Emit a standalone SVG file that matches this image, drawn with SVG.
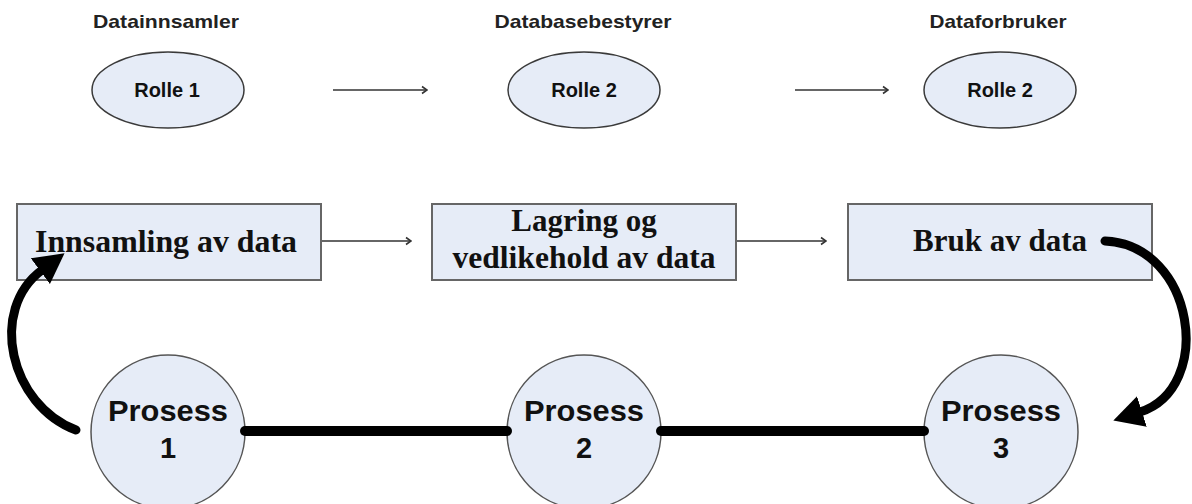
<svg xmlns="http://www.w3.org/2000/svg" width="1192" height="504" viewBox="0 0 1192 504">
<style>
.bg{fill:#ffffff}
.ell{fill:#e6ecf7;stroke:#3a3a3a;stroke-width:1.5}
.box{fill:#e6ecf7;stroke:#666666;stroke-width:2}
.circ{fill:#e6ecf7;stroke:#555555;stroke-width:1.5}
.lab{font-family:"Liberation Sans",Arial,sans-serif;font-weight:bold;font-size:19px;fill:#222;text-anchor:middle}
.role{font-family:"Liberation Sans",Arial,sans-serif;font-weight:bold;font-size:20px;fill:#111;text-anchor:middle}
.proc{font-family:"Liberation Sans",Arial,sans-serif;font-weight:bold;font-size:29px;fill:#111;text-anchor:middle}
.serif{font-family:"Liberation Serif","Times New Roman",serif;font-weight:bold;font-size:31px;fill:#111;text-anchor:middle}
.thin{stroke:#333;stroke-width:1.6;fill:none}
.thick{stroke:#000;stroke-width:10;stroke-linecap:round;fill:none}
.curve{stroke:#000;stroke-width:9;stroke-linecap:round;fill:none}
</style>
<defs>
<marker id="open" viewBox="0 0 10 10" refX="9" refY="5" markerWidth="10" markerHeight="10" markerUnits="userSpaceOnUse" orient="auto">
<path d="M4,1.5 L9,5 L4,8.5" fill="none" stroke="#333" stroke-width="1.6"/>
</marker>
<marker id="big" viewBox="0 0 30 32" refX="2" refY="16" markerWidth="30" markerHeight="32" markerUnits="userSpaceOnUse" orient="auto">
<path d="M0,0 L30,16 L0,32 z" fill="#000"/>
</marker>
</defs>
<rect class="bg" x="0" y="0" width="1192" height="504"/>

<g id="role1">
<text class="lab" x="166" y="28" textLength="146" lengthAdjust="spacingAndGlyphs">Datainnsamler</text>
<ellipse class="ell" cx="168" cy="90" rx="76" ry="38"/>
<text class="role" x="167" y="97">Rolle 1</text>
</g>
<g id="role2">
<text class="lab" x="583" y="28" textLength="177" lengthAdjust="spacingAndGlyphs">Databasebestyrer</text>
<ellipse class="ell" cx="584" cy="90" rx="76" ry="38"/>
<text class="role" x="584" y="97">Rolle 2</text>
</g>
<g id="role3">
<text class="lab" x="998" y="28" textLength="137" lengthAdjust="spacingAndGlyphs">Dataforbruker</text>
<ellipse class="ell" cx="1000" cy="90" rx="76" ry="38"/>
<text class="role" x="1000" y="97">Rolle 2</text>
</g>

<g id="box1">
<rect class="box" x="17" y="204" width="304" height="76"/>
<text class="serif" x="166" y="252" textLength="262" lengthAdjust="spacingAndGlyphs">Innsamling av data</text>
</g>
<g id="box2">
<rect class="box" x="432" y="204" width="304" height="76"/>
<text class="serif" x="584" y="231">Lagring og</text>
<text class="serif" x="584" y="268" textLength="263" lengthAdjust="spacingAndGlyphs">vedlikehold av data</text>
</g>
<g id="box3">
<rect class="box" x="848" y="204" width="304" height="76"/>
<text class="serif" x="1000" y="251">Bruk av data</text>
</g>

<g id="proc1">
<circle class="circ" cx="168" cy="432" r="77"/>
<text class="proc" x="168" y="421" textLength="120" lengthAdjust="spacingAndGlyphs">Prosess</text>
<text class="proc" x="168" y="458">1</text>
</g>
<g id="proc2">
<circle class="circ" cx="584" cy="432" r="77"/>
<text class="proc" x="584" y="421" textLength="120" lengthAdjust="spacingAndGlyphs">Prosess</text>
<text class="proc" x="584" y="458">2</text>
</g>
<g id="proc3">
<circle class="circ" cx="1001" cy="432" r="77"/>
<text class="proc" x="1001" y="421" textLength="120" lengthAdjust="spacingAndGlyphs">Prosess</text>
<text class="proc" x="1001" y="458">3</text>
</g>

<g id="connectors">
<line class="thin" x1="333" y1="90" x2="427" y2="90" marker-end="url(#open)"/>
<line class="thin" x1="795" y1="90" x2="888" y2="90" marker-end="url(#open)"/>
<line class="thin" x1="322" y1="241" x2="411" y2="241" marker-end="url(#open)"/>
<line class="thin" x1="737" y1="241" x2="826" y2="241" marker-end="url(#open)"/>
<line class="thick" x1="245" y1="431" x2="507" y2="431"/>
<line class="thick" x1="661" y1="431" x2="924" y2="431"/>
<path class="curve" d="M76,430 C10,405 -12,310 42,270" marker-end="url(#big)"/>
<path class="curve" d="M1105,241 C1195,245 1215,388 1140,412" marker-end="url(#big)"/>
</g>
</svg>
